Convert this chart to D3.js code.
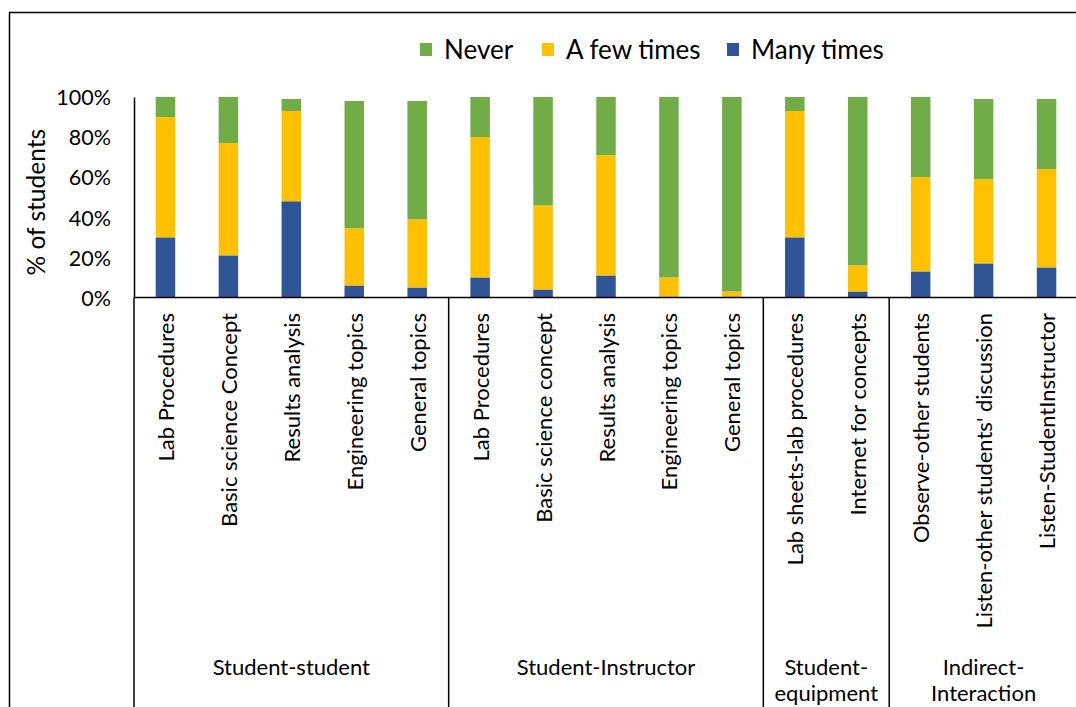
<!DOCTYPE html>
<html>
<head>
<meta charset="utf-8">
<script src="https://cdn.jsdelivr.net/npm/d3@7"></script>
<style>
  html, body { margin: 0; padding: 0; background: #fff; }
  svg { display: block; font-family: "Lato", "Open Sans", sans-serif; }
</style>
</head>
<body>
<svg id="chart" width="1076" height="707"></svg>
<script>
// Interaction items (x categories)
const categories = [
  "Lab Procedures", "Basic science Concept", "Results analysis", "Engineering topics", "General topics",
  "Lab Procedures", "Basic science concept", "Results analysis", "Engineering topics", "General topics",
  "Lab sheets-lab procedures", "Internet for concepts",
  "Observe-other students", "Listen-other students' discussion", "Listen-StudentInstructor"
];
// Outer category groups and how many items each spans
const groupLabels = [["Student-student"], ["Student-Instructor"], ["Student-", "equipment"], ["Indirect-", "Interaction"]];
const groupSizes = [5, 5, 2, 3];

// Percent of students per response
const manyTimes = [30, 21, 48, 6, 5, 10, 4, 11, 0, 0, 30, 3, 13, 17, 15];
const aFewTimes = [60, 56, 45, 28.5, 34, 70, 42, 60, 10, 3, 63, 13, 47, 42, 49];
const never     = [10, 23, 6, 63.5, 59, 20, 54, 29, 90, 97, 7, 84, 40, 40, 35];

const seriesKeys = ["Many times", "A few times", "Never"];
const legendOrder = ["Never", "A few times", "Many times"];
const yTicks = [0, 20, 40, 60, 80, 100];

const colors = { "Never": "#70AD47", "A few times": "#FFC000", "Many times": "#2F5597" };

const svg = d3.select("#chart");
const W = 1076, H = 707;
const plot = { left: 134, right: 1078, top: 97, bottom: 297.5 };

// outer frame
svg.append("rect")
  .attr("x", 9.5).attr("y", 12.5).attr("width", 1080).attr("height", 720)
  .attr("fill", "none").attr("stroke", "#000").attr("stroke-width", 1.5);

const rows = categories.map((c, i) => ({
  key: i, "Many times": manyTimes[i], "A few times": aFewTimes[i], "Never": never[i]
}));

const x = d3.scaleBand().domain(d3.range(categories.length))
  .range([plot.left, plot.right]).paddingInner(0.69).paddingOuter(0.345);
const y = d3.scaleLinear().domain([0, 100]).range([plot.bottom, plot.top]);

const stacked = d3.stack().keys(seriesKeys)(rows);

svg.append("g").selectAll("g").data(stacked).join("g")
  .attr("fill", d => colors[d.key])
  .selectAll("rect").data(d => d).join("rect")
  .attr("x", d => x(d.data.key))
  .attr("width", x.bandwidth())
  .attr("y", d => y(d[1]))
  .attr("height", d => y(d[0]) - y(d[1]));

// y axis
const yAxis = d3.axisLeft(y).tickValues(yTicks).tickSize(0).tickPadding(23)
  .tickFormat(d => d + "%");
const gy = svg.append("g").attr("transform", `translate(${plot.left},0)`).call(yAxis);
gy.select(".domain").attr("stroke", "#000").attr("stroke-width", 1.5);
gy.selectAll("text").attr("font-size", 21.5).attr("fill", "#000")
  .attr("font-family", "Lato").attr("dy", "0.36em");

// y title
svg.append("text")
  .attr("transform", `translate(45,${(plot.top + plot.bottom) / 2 + 5}) rotate(-90)`)
  .attr("text-anchor", "middle").attr("font-size", 24.5).attr("fill", "#000")
  .text("% of students");

// x axis line
svg.append("line")
  .attr("x1", plot.left).attr("x2", plot.right + 5)
  .attr("y1", plot.bottom).attr("y2", plot.bottom)
  .attr("stroke", "#000").attr("stroke-width", 1.5);

// group separators at band boundaries
const step = x.step();
let boundaries = [0];
groupSizes.forEach(s => boundaries.push(boundaries[boundaries.length - 1] + s));
const bx = i => plot.left + i * step;
svg.append("g").selectAll("line").data(boundaries).join("line")
  .attr("x1", d => bx(d)).attr("x2", d => bx(d))
  .attr("y1", plot.bottom).attr("y2", H + 5)
  .attr("stroke", "#000").attr("stroke-width", 1.5);

// item labels, rotated
svg.append("g").selectAll("text").data(categories).join("text")
  .attr("transform", (d, i) => `translate(${x(i) + x.bandwidth() / 2 + 8.5},313) rotate(-90)`)
  .attr("text-anchor", "end").attr("font-size", 22).attr("fill", "#000")
  .text(d => d);

// group labels
const gl = svg.append("g").selectAll("text").data(groupLabels).join("text")
  .attr("text-anchor", "middle").attr("font-size", 22).attr("fill", "#000")
  .attr("x", (d, i) => (bx(boundaries[i]) + bx(boundaries[i + 1])) / 2)
  .attr("y", 675);
gl.selectAll("tspan").data(d => d).join("tspan")
  .attr("x", function () { return d3.select(this.parentNode).attr("x"); })
  .attr("dy", (d, j) => j === 0 ? 0 : 26)
  .text(d => d);

// legend
const legendX = [420, 542, 727];
const lg = svg.append("g").selectAll("g").data(legendOrder).join("g")
  .attr("transform", (d, i) => `translate(${legendX[i]},43)`);
lg.append("rect").attr("width", 12).attr("height", 13).attr("fill", d => colors[d]);
lg.append("text").attr("x", 24).attr("y", 6.5).attr("dy", "0.36em")
  .attr("font-size", 26).attr("fill", "#000").text(d => d);
</script>
</body>
</html>
